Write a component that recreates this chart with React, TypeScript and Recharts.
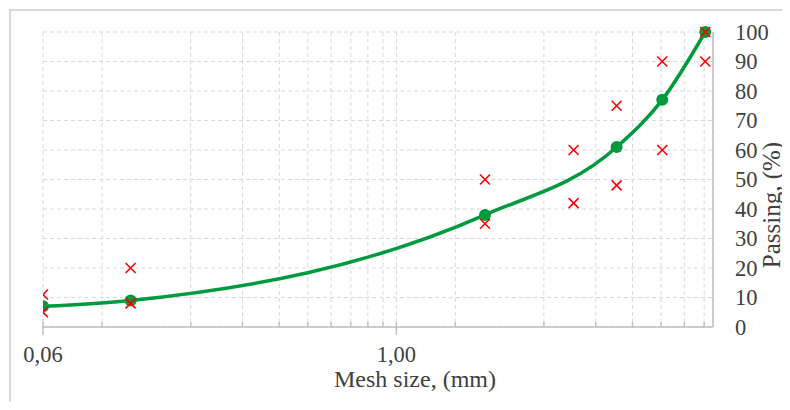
import React from "react";
import { ComposedChart, Line, Scatter, XAxis, YAxis, CartesianGrid } from "recharts";

// sieve sizes (mm) and passing (%) of the mix
const sizes = [0.063, 0.125, 2, 5.6, 8, 11.2];
const passing = [7, 9, 38, 61, 77, 100];

// grading envelope (red crosses)
const limitSizes = [0.063, 0.125, 2, 4, 5.6, 8, 11.2];
const upperLimit = [11, 20, 50, 60, 75, 90, 100];
const lowerLimit = [5, 8, 35, 42, 48, 60, 90];

// log-axis grid positions, only two carry labels
const xGridTicks = [0.063, 0.1, 0.2, 0.3, 0.4, 0.5, 0.6, 0.7, 0.8, 0.9, 1, 1.585, 3.17, 4.755, 6.34, 7.925, 9.51, 11.1];
const xLabels: Record<number, string> = { 0.063: "0,06", 1: "1,00" };
const yTicks = [0, 10, 20, 30, 40, 50, 60, 70, 80, 90, 100];

const FONT = "Liberation Serif";
const TICK_FS = 22.5;
const TEXT = "#404040";
const AXIS = "#bfbfbf";
const GREEN = "#009a3e";
const RED = "#ff0000";

const curveData = sizes.map((x, i) => ({ x, y: passing[i] }));
const limitData = [
  ...limitSizes.map((x, i) => ({ x, y: upperLimit[i] })),
  ...limitSizes.map((x, i) => ({ x, y: lowerLimit[i] })),
];

function XTick({ x, y, payload }: any) {
  const label = xLabels[payload.value];
  return (
    <g>
      <line x1={x} x2={x} y1={y - 5} y2={label ? y + 8 : y} stroke={AXIS} strokeWidth={1.5} />
      {label && (
        <text x={x} y={y + 35} textAnchor="middle" fontFamily={FONT} fontSize={TICK_FS} fill={TEXT}>
          {label}
        </text>
      )}
    </g>
  );
}

function Cross({ cx, cy }: any) {
  const s = 5;
  return (
    <g stroke={RED} strokeWidth={1.6}>
      <line x1={cx - s} y1={cy - s} x2={cx + s} y2={cy + s} />
      <line x1={cx - s} y1={cy + s} x2={cx + s} y2={cy - s} />
    </g>
  );
}

export default function App() {
  return (
    <div style={{ position: "relative", width: 790, height: 410, margin: -8, background: "#fff", overflow: "hidden" }}>
      <div
        style={{
          position: "absolute",
          left: 9,
          top: 9,
          width: 820,
          height: 440,
          border: "2px solid #d9d9d9",
        }}
      />
      <ComposedChart
        width={790}
        height={410}
        margin={{ top: 32, right: 10, left: 43, bottom: 10 }}
        style={{ position: "absolute", left: 0, top: 0 }}
      >
        <CartesianGrid stroke="#d9d9d9" strokeDasharray="4 3" />
        <XAxis
          type="number"
          dataKey="x"
          scale="log"
          domain={[0.063, 11.9]}
          allowDataOverflow
          ticks={xGridTicks}
          interval={0}
          tick={<XTick />}
          tickLine={false}
          tickSize={0}
          tickMargin={0}
          height={73}
          axisLine={{ stroke: AXIS, strokeWidth: 1.5 }}
          label={{
            content: () => (
              <text x={415} y={387} textAnchor="middle" fontFamily={FONT} fontSize={24} fill={TEXT}>
                Mesh size, (mm)
              </text>
            ),
          }}
        />
        <YAxis
          type="number"
          dataKey="y"
          orientation="right"
          domain={[0, 100]}
          ticks={yTicks}
          interval={0}
          width={67}
          tickLine={false}
          tickSize={0}
          tickMargin={22}
          axisLine={{ stroke: AXIS, strokeWidth: 1.5 }}
          tick={{ fontFamily: FONT, fontSize: TICK_FS, fill: TEXT, textAnchor: "start" }}
          label={{
            content: () => (
              <text
                x={780}
                y={205}
                transform="rotate(-90, 780, 205)"
                textAnchor="middle"
                fontFamily={FONT}
                fontSize={25}
                fill={TEXT}
              >
                Passing, (%)
              </text>
            ),
          }}
        />
        <Line
          data={curveData}
          dataKey="y"
          type="monotone"
          stroke={GREEN}
          strokeWidth={3.5}
          dot={{ r: 6, fill: GREEN, stroke: "none" }}
          activeDot={false}
          isAnimationActive={false}
        />
        <Scatter data={limitData} dataKey="y" shape={<Cross />} isAnimationActive={false} />
      </ComposedChart>
    </div>
  );
}
